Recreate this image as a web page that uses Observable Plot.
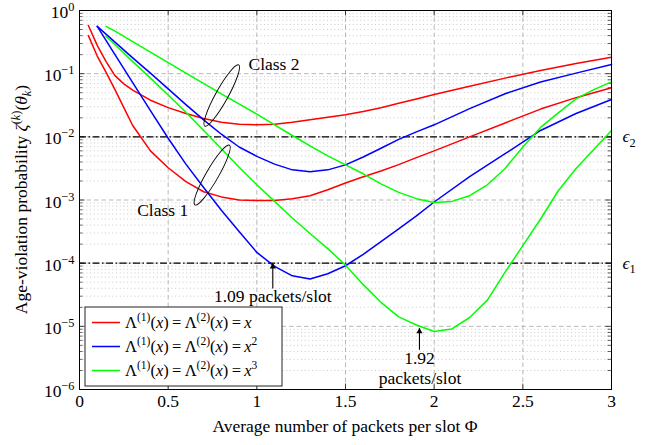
<!DOCTYPE html>
<html><head><meta charset="utf-8">
<script src="https://cdn.jsdelivr.net/npm/d3@7"></script>
<script src="https://cdn.jsdelivr.net/npm/@observablehq/plot@0.6"></script>
<style>body{margin:0;background:#fff}svg{display:block}
#chart svg text{font-family:"Liberation Serif","Tinos","Times New Roman","DejaVu Serif",serif}</style>
</head><body><div id="chart"></div>
<script>
// ---------- data ----------
const X_TICKS = [0, 0.5, 1, 1.5, 2, 2.5, 3];
const X_GRID = [0.5, 1, 1.5, 2, 2.5];
const Y_DECADES = [1e-6, 1e-5, 1e-4, 1e-3, 1e-2, 1e-1, 1];
const Y_MINOR_MULT = [2, 3, 4, 5, 6, 7, 8, 9];
const EPS_LEVELS = [1e-2, 1e-4];
const EPS_LABELS = ["*ϵ*_{2}", "*ϵ*_{1}"];

// x = Λ (red)
const phiRed = [0.05,0.1,0.15,0.2,0.25,0.3,0.4,0.5,0.6,0.7,0.8,0.9,1.0,1.1,1.2,1.3,1.4,1.5,1.6,1.7,1.8,1.9,2.0,2.2,2.4,2.6,2.8,3.0];
const redClass1 = [0.40,0.19,0.105,0.056,0.029,0.0151,0.0060,0.00324,0.00195,0.00135,0.00112,0.00100,0.00098,0.00098,0.00105,0.00117,0.00145,0.00186,0.00234,0.00288,0.00363,0.00468,0.0060,0.0100,0.0166,0.0275,0.0417,0.060];
const redClass2 = [0.58,0.28,0.155,0.093,0.069,0.055,0.038,0.029,0.0234,0.0195,0.017,0.0158,0.0155,0.0158,0.017,0.0186,0.0204,0.0224,0.0251,0.0288,0.0339,0.0398,0.0468,0.063,0.085,0.112,0.145,0.182];
// x^2 (blue)
const phiBlue = [0.1,0.2,0.3,0.4,0.5,0.6,0.7,0.8,0.9,1.0,1.1,1.2,1.3,1.4,1.5,1.6,1.7,1.8,1.9,2.0,2.2,2.4,2.6,2.8,3.0];
const blueClass1 = [0.56,0.20,0.072,0.026,0.0095,0.0037,0.00158,0.00069,0.000316,0.000148,0.000089,0.000063,0.000056,0.000068,0.000091,0.000138,0.00022,0.00035,0.00056,0.00093,0.00234,0.0054,0.0126,0.0234,0.039];
const blueClass2 = [0.56,0.316,0.178,0.102,0.0575,0.0324,0.0186,0.011,0.0069,0.0049,0.0037,0.0030,0.0028,0.0030,0.0036,0.0048,0.0066,0.0091,0.012,0.0155,0.028,0.048,0.074,0.102,0.14];
// x^3 (green)
const phiGreen1 = [0.15,0.2,0.3,0.4,0.5,0.6,0.7,0.8,0.9,1.0,1.1,1.2,1.3,1.4,1.5,1.6,1.7,1.8,1.9,2.0,2.1,2.2,2.3,2.4,2.5,2.6,2.7,2.8,2.9,3.0];
const greenClass1 = [0.39,0.29,0.155,0.085,0.046,0.0245,0.0126,0.0065,0.0033,0.00174,0.00095,0.00052,0.000295,0.00017,0.000093,0.0000457,0.000024,0.0000141,0.0000105,0.0000083,0.0000091,0.0000138,0.000026,0.000072,0.00019,0.0005,0.0014,0.00316,0.0063,0.0126];
const phiGreen2 = [0.15,0.2,0.4,0.6,0.8,1.0,1.1,1.2,1.3,1.4,1.5,1.6,1.7,1.8,1.9,2.0,2.1,2.2,2.3,2.4,2.5,2.6,2.7,2.8,2.9,3.0];
const greenClass2 = [0.56,0.47,0.22,0.102,0.048,0.0229,0.0155,0.0105,0.0072,0.0050,0.0036,0.0026,0.0018,0.00132,0.00105,0.00091,0.00095,0.00117,0.00174,0.00316,0.0069,0.0141,0.024,0.040,0.056,0.074];

const LEGEND_LABELS = [
  "Λ^{(1)}(*x*)\u2009=\u2009Λ^{(2)}(*x*)\u2009=\u2009*x*",
  "Λ^{(1)}(*x*)\u2009=\u2009Λ^{(2)}(*x*)\u2009=\u2009*x*^{2}",
  "Λ^{(1)}(*x*)\u2009=\u2009Λ^{(2)}(*x*)\u2009=\u2009*x*^{3}"
];
const COLORS = ["#ff0000", "#0000ff", "#00ff00"];

// ---------- layout / styling ----------
const W = 651, H = 445, ML = 79, MR = 40, MT = 10, MB = 56;
const PW = W - ML - MR, PH = H - MT - MB;
const FS = 17.5;
const FONT = "'Liberation Serif','Tinos','Times New Roman','DejaVu Serif',serif";

const series = [
  {xs: phiRed, ys: redClass1, color: COLORS[0]},
  {xs: phiRed, ys: redClass2, color: COLORS[0]},
  {xs: phiBlue, ys: blueClass1, color: COLORS[1]},
  {xs: phiBlue, ys: blueClass2, color: COLORS[1]},
  {xs: phiGreen1, ys: greenClass1, color: COLORS[2]},
  {xs: phiGreen2, ys: greenClass2, color: COLORS[2]}
];
const yMinor = Y_DECADES.slice(0, -1).flatMap(d => Y_MINOR_MULT.map(m => m * d));

// annotations (data coordinates)
const classNotes = [
  {x: 0.953, y: 0.142, text: "Class 2"},
  {x: 0.325, y: 0.00068, text: "Class 1"}
];
const arrowNotes = [
  {x: 1.09, y: 0.0000297, text: "1.09 packets/slot"},
  {x: 1.917, y: 0.0000031, text: "1.92"},
  {x: 1.92, y: 0.00000152, text: "packets/slot"}
];
const arrows = [
  {x: 1.09, y1: 0.0000398, y2: 0.0001},
  {x: 1.917, y1: 0.00000425, y2: 0.0000094}
];
const ellipses = [
  {x: 0.805, y: 0.0443, rx: 35, ry: 6.2, angle: -61},
  {x: 0.751, y: 0.00244, rx: 34.5, ry: 6.2, angle: -60}
];

const expFmt = d => { const e = Math.round(Math.log10(d)); return "10^{" + (e < 0 ? "\u2212" + (-e) : e) + "}"; };

const marks = [
  Plot.ruleY(yMinor, {stroke: "#bdbdbd", strokeWidth: 0.8, strokeDasharray: "1,2.7"}),
  Plot.ruleY(Y_DECADES.slice(1, -1), {stroke: "#b0b0b0", strokeWidth: 0.9, strokeDasharray: "4.5,3"}),
  Plot.ruleX(X_GRID, {stroke: "#b0b0b0", strokeWidth: 0.9, strokeDasharray: "4.5,3"}),
  // inward ticks
  Plot.ruleY(yMinor, {insetRight: PW - 3.5, stroke: "#000", strokeWidth: 0.6}),
  Plot.ruleY(yMinor, {insetLeft: PW - 3.5, stroke: "#000", strokeWidth: 0.6}),
  Plot.ruleY(Y_DECADES, {insetRight: PW - 5.5, stroke: "#000", strokeWidth: 0.7}),
  Plot.ruleY(Y_DECADES, {insetLeft: PW - 5.5, stroke: "#000", strokeWidth: 0.7}),
  Plot.ruleX(X_TICKS, {insetTop: PH - 5.5, stroke: "#000", strokeWidth: 0.7}),
  Plot.ruleX(X_TICKS, {insetBottom: PH - 5.5, stroke: "#000", strokeWidth: 0.7}),
  // thresholds
  Plot.ruleY(EPS_LEVELS, {stroke: "#000", strokeWidth: 1.3, strokeDasharray: "7,2.5,1.5,2.5"}),
  ...series.map(s => Plot.line(s.xs.map((x, i) => ({x, y: s.ys[i]})), {x: "x", y: "y", stroke: s.color, strokeWidth: 1.5})),
  Plot.text(EPS_LEVELS.map((v, i) => ({y: v, t: EPS_LABELS[i]})), {x: 3, y: "y", text: "t", dx: 11, textAnchor: "start", fontSize: FS}),
  Plot.text(classNotes, {x: "x", y: "y", text: "text", textAnchor: "start", fontSize: FS}),
  Plot.text(arrowNotes, {x: "x", y: "y", text: "text", textAnchor: "middle", fontSize: FS}),
  Plot.link(arrows, {x1: "x", x2: "x", y1: "y1", y2: "y2", stroke: "#000", strokeWidth: 1.1}),
  Plot.dot(arrows, {x: "x", y: "y2", symbol: "triangle", r: 2.3, fill: "#000", stroke: null, dy: 3.5}),
  Plot.frame({stroke: "#000", strokeWidth: 1})
];

const chart = Plot.plot({
  width: W, height: H,
  marginLeft: ML, marginRight: MR, marginTop: MT, marginBottom: MB,
  style: {fontFamily: FONT, fontSize: FS + "px", background: "#fff", color: "#000", overflow: "visible"},
  x: {domain: [0, 3], ticks: X_TICKS, tickSize: 0, tickPadding: 5, tickFormat: d => String(d), label: null},
  y: {type: "log", domain: [1e-6, 1], ticks: Y_DECADES, tickSize: 0, tickPadding: 5, tickFormat: expFmt, label: null},
  marks
});
document.getElementById("chart").appendChild(chart);

// ---------- rich text helper ----------
function tokens(src) {
  const out = []; let italic = false, mode = "base", buf = "";
  const flush = () => { if (buf) { out.push({t: buf, italic, mode}); buf = ""; } };
  for (let i = 0; i < src.length; i++) {
    const c = src[i];
    if (c === "*") { flush(); italic = !italic; }
    else if ((c === "^" || c === "_") && src[i + 1] === "{") { flush(); mode = c === "^" ? "sup" : "sub"; i++; }
    else if (c === "}" && mode !== "base") { flush(); mode = "base"; }
    else buf += c;
  }
  flush(); return out;
}
function richify(el, src, fs, base = 0) {
  const sel = d3.select(el); sel.text(null);
  let cur = -base;
  for (const tk of tokens(src)) {
    const target = tk.mode === "sup" ? -0.4 * fs : tk.mode === "sub" ? 0.25 * fs : 0;
    const ts = sel.append("tspan").text(tk.t);
    if (target !== cur) ts.attr("dy", (target - cur).toFixed(2));
    cur = target;
    if (tk.mode !== "base") ts.attr("font-size", (0.7 * fs).toFixed(1));
    if (tk.italic) ts.attr("font-style", "italic");
  }
}

const svg = d3.select(chart.tagName.toLowerCase() === "svg" ? chart : chart.querySelector("svg"));
svg.selectAll("text").each(function () {
  const s = this.textContent;
  if (s.startsWith("10^{")) richify(this, s, FS, 2);
  else if (s.includes("^{") || s.includes("_{") || s.includes("*")) richify(this, s, FS);
});

// scales
const sx = chart.scale("x"), sy = chart.scale("y");
const X = sx.apply ? v => sx.apply(v) : d3.scaleLinear(sx.domain, sx.range);
const Y = sy.apply ? v => sy.apply(v) : d3.scaleLog(sy.domain, sy.range);

// ellipses
for (const e of ellipses) {
  svg.append("ellipse")
    .attr("transform", `translate(${X(e.x)},${Y(e.y)}) rotate(${e.angle})`)
    .attr("rx", e.rx).attr("ry", e.ry)
    .attr("fill", "none").attr("stroke", "#000").attr("stroke-width", 0.9);
}

// axis labels
const xl = svg.append("text").attr("x", ML + PW / 2).attr("y", H - 13)
  .attr("text-anchor", "middle").attr("font-size", FS);
richify(xl.node(), "Average number of packets per slot Φ", FS);
const yl = svg.append("text").attr("transform", `translate(27,${MT + PH / 2}) rotate(-90)`)
  .attr("text-anchor", "middle").attr("font-size", FS);
richify(yl.node(), "Age-violation probability *ζ*^{(*k*)}(*θ*_{*k*})", FS);

// legend (inside, bottom-left)
const lg = svg.append("g").attr("transform", `translate(${ML + 6},${H - MB - 82})`);
lg.append("rect").attr("width", 197).attr("height", 79).attr("fill", "#fff").attr("stroke", "#222").attr("stroke-width", 1);
LEGEND_LABELS.forEach((lab, i) => {
  const cy = 15.5 + i * 24;
  lg.append("line").attr("x1", 7).attr("x2", 35).attr("y1", cy).attr("y2", cy).attr("stroke", COLORS[i]).attr("stroke-width", 1.5);
  const t = lg.append("text").attr("x", 40).attr("y", cy + 5.5).attr("font-size", FS - 1).attr("text-anchor", "start");
  richify(t.node(), lab, FS - 1);
});
</script></body></html>
